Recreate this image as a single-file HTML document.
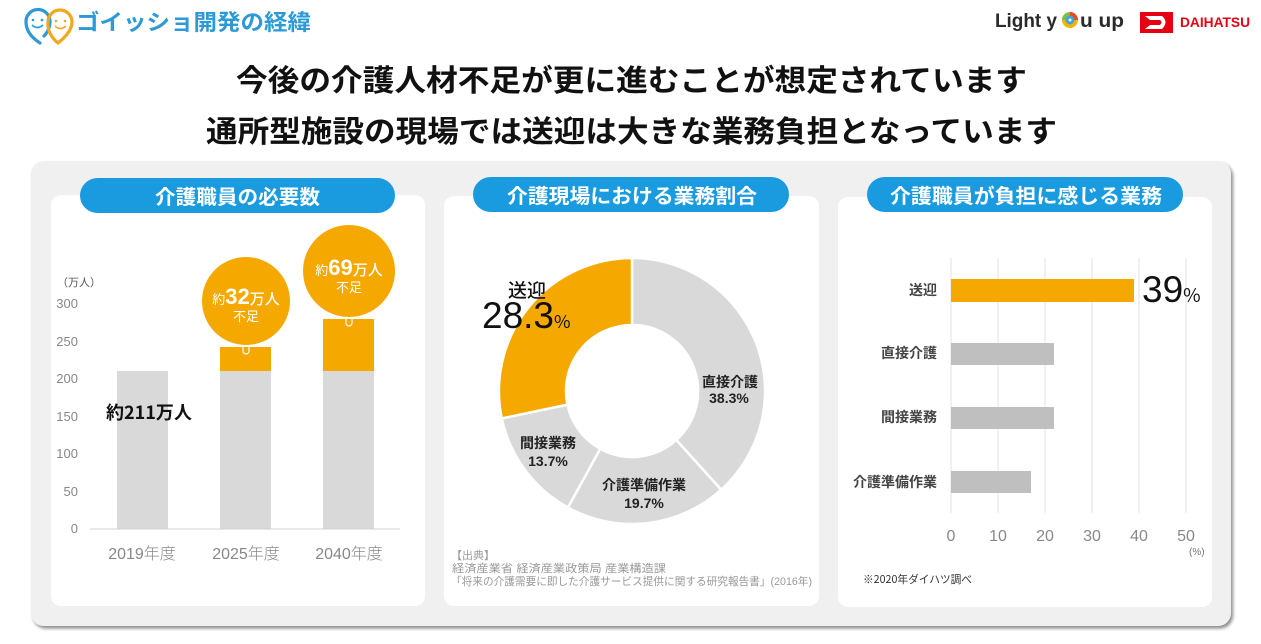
<!DOCTYPE html>
<html><head><meta charset="utf-8">
<style>
html,body{margin:0;padding:0;background:#fff;}
svg{display:block;}
text{font-family:"Liberation Sans","Noto Sans CJK JP",sans-serif;}
.jp{font-family:"Noto Sans CJK JP","Liberation Sans",sans-serif;}
</style></head>
<body>
<svg width="1261" height="644" viewBox="0 0 1261 644" xmlns="http://www.w3.org/2000/svg">
<defs>
<filter id="sh" x="-5%" y="-5%" width="110%" height="115%">
<feDropShadow dx="2" dy="2.5" stdDeviation="1.5" flood-color="#6e6e6e" flood-opacity="0.8"/>
</filter>
</defs>

<!-- Header logo -->
<g fill="none" stroke-width="3.2" stroke-linecap="round">
<path d="M40 43 Q26 34 26 22 A12 12 0 0 1 50 21 Q50 30 44 36" stroke="#2b9ad6"/>
<path d="M58 43 Q47 34 48 22 A12 12 0 0 1 72 22 Q72 32 58 43" stroke="#f2a81d"/>
</g>
<circle cx="33" cy="20" r="1.3" fill="#2b9ad6"/><circle cx="42" cy="20" r="1.3" fill="#2b9ad6"/>
<path d="M32 25 Q37.5 30 43 25" stroke="#2b9ad6" stroke-width="1.6" fill="none"/>
<circle cx="56" cy="21" r="1.3" fill="#f2a81d"/><circle cx="65" cy="21" r="1.3" fill="#f2a81d"/>
<path d="M55 26 Q60.5 31 66 26" stroke="#f2a81d" stroke-width="1.6" fill="none"/>
<text x="76" y="30" class="jp" font-size="22" font-weight="700" fill="#2b9ad6" textLength="235" lengthAdjust="spacingAndGlyphs">ゴイッショ開発の経緯</text>

<!-- Light you up -->
<text x="995" y="27" font-size="19" font-weight="700" fill="#2a2a2a" textLength="62" lengthAdjust="spacingAndGlyphs">Light y</text>
<circle cx="1070" cy="20" r="8" fill="#f4b400"/>
<path d="M1070 12 A8 8 0 0 1 1078 20 L1074 20 A4 4 0 0 0 1070 16 Z" fill="#e8452c"/>
<path d="M1062 20 A8 8 0 0 1 1070 12 L1070 16 A4 4 0 0 0 1066 20 Z" fill="#7cc242"/>
<circle cx="1070" cy="20" r="4.5" fill="#3aa6dd"/>
<circle cx="1070" cy="20" r="1.5" fill="#fff"/>
<text x="1080" y="27" font-size="19" font-weight="700" fill="#2a2a2a" textLength="44" lengthAdjust="spacingAndGlyphs">u up</text>

<!-- DAIHATSU -->
<rect x="1140" y="12" width="33" height="21" fill="#e60012"/>
<path d="M1145 16 L1162 16 Q1169 22 1162 29 L1145 29 L1150 25 L1160 25 Q1163 22 1160 20 L1150 20 Z" fill="#fff"/>
<text x="1180" y="27" font-size="14" font-weight="700" fill="#e60012" textLength="70" lengthAdjust="spacingAndGlyphs">DAIHATSU</text>

<!-- Titles -->
<text x="236" y="91" class="jp" font-size="30" font-weight="700" fill="#111" textLength="791" lengthAdjust="spacingAndGlyphs">今後の介護人材不足が更に進むことが想定されています</text>
<text x="206" y="142" class="jp" font-size="30" font-weight="700" fill="#111" textLength="851" lengthAdjust="spacingAndGlyphs">通所型施設の現場では送迎は大きな業務負担となっています</text>

<!-- Outer container -->
<rect x="31" y="161" width="1200" height="465" rx="13" fill="#f0f0f0" filter="url(#sh)"/>

<!-- Panels -->
<rect x="51" y="195" width="374" height="411" rx="10" fill="#fff"/>
<rect x="444" y="196" width="375" height="410" rx="10" fill="#fff"/>
<rect x="838" y="197" width="374" height="410" rx="10" fill="#fff"/>

<!-- Pills -->
<rect x="80" y="178" width="315" height="35" rx="17.5" fill="#1a9be0"/>
<text x="155" y="204" class="jp" font-size="20" font-weight="700" fill="#fff" textLength="165" lengthAdjust="spacingAndGlyphs">介護職員の必要数</text>
<rect x="473" y="177" width="316" height="35" rx="17.5" fill="#1a9be0"/>
<text x="507" y="203" class="jp" font-size="20" font-weight="700" fill="#fff" textLength="250" lengthAdjust="spacingAndGlyphs">介護現場における業務割合</text>
<rect x="867" y="177" width="316" height="35" rx="17.5" fill="#1a9be0"/>
<text x="890" y="203" class="jp" font-size="20" font-weight="700" fill="#fff" textLength="272" lengthAdjust="spacingAndGlyphs">介護職員が負担に感じる業務</text>

<!-- Panel 1: bar chart -->
<g font-size="13" fill="#888" text-anchor="end">
<text x="78" y="308">300</text>
<text x="78" y="346">250</text>
<text x="78" y="383">200</text>
<text x="78" y="421">150</text>
<text x="78" y="458">100</text>
<text x="78" y="496">50</text>
<text x="78" y="533">0</text>
</g>
<text x="57" y="286" class="jp" font-size="11" fill="#555">（万人）</text>

<rect x="117" y="371" width="51" height="158" fill="#d9d9d9"/>
<rect x="220" y="371" width="51" height="158" fill="#d9d9d9"/>
<rect x="220" y="347" width="51" height="24" fill="#f5a800"/>
<rect x="323" y="371" width="51" height="158" fill="#d9d9d9"/>
<rect x="323" y="319" width="51" height="52" fill="#f5a800"/>
<line x1="90" y1="529" x2="400" y2="529" stroke="#d0d0d0" stroke-width="1"/>

<g class="jp" font-size="16" fill="#888" text-anchor="middle" font-weight="300">
<text x="142" y="559">2019年度</text>
<text x="246" y="559">2025年度</text>
<text x="349" y="559">2040年度</text>
</g>
<text x="106" y="419" class="jp" font-size="18" font-weight="700" fill="#111" textLength="86" lengthAdjust="spacingAndGlyphs">約211万人</text>

<!-- bubbles -->
<circle cx="246" cy="301" r="44" fill="#f5a800"/>
<path d="M243 347 L243 351 A3 3 0 0 0 249 351 L249 347" fill="none" stroke="#fff" stroke-width="1.2"/>
<text x="246" y="304" class="jp" fill="#fff" text-anchor="middle"><tspan font-size="13">約</tspan><tspan font-size="22" font-family="Liberation Sans" font-weight="700">32</tspan><tspan font-size="15" font-weight="500">万人</tspan></text>
<text x="246" y="321" class="jp" font-size="13" fill="#fff" text-anchor="middle">不足</text>

<circle cx="349" cy="271" r="46" fill="#f5a800"/>
<path d="M346 319 L346 323 A3 3 0 0 0 352 323 L352 319" fill="none" stroke="#fff" stroke-width="1.2"/>
<text x="349" y="275" class="jp" fill="#fff" text-anchor="middle"><tspan font-size="13">約</tspan><tspan font-size="22" font-family="Liberation Sans" font-weight="700">69</tspan><tspan font-size="15" font-weight="500">万人</tspan></text>
<text x="349" y="292" class="jp" font-size="13" fill="#fff" text-anchor="middle">不足</text>

<!-- Panel 2: donut -->
<g stroke="#fff" stroke-width="2.5" stroke-linejoin="round">
<path d="M632,258 A133,133 0 0 1 721.2,489.7 L676.3,440.0 A66,66 0 0 0 632,325 Z" fill="#d9d9d9"/>
<path d="M721.2,489.7 A133,133 0 0 1 567.9,507.5 L600.2,448.8 A66,66 0 0 0 676.3,440.0 Z" fill="#d9d9d9"/>
<path d="M567.9,507.5 A133,133 0 0 1 501.8,418.4 L567.4,404.6 A66,66 0 0 0 600.2,448.8 Z" fill="#d9d9d9"/>
<path d="M501.8,418.4 A133,133 0 0 1 632,258 L632,325 A66,66 0 0 0 567.4,404.6 Z" fill="#f5a800"/>
</g>
<text x="508" y="297" class="jp" font-size="19" font-weight="500" fill="#111">送迎</text>
<text x="482" y="328" fill="#111"><tspan font-size="37" font-family="Liberation Sans">28.3</tspan><tspan font-size="18" class="jp">%</tspan></text>

<g class="jp" font-size="14" font-weight="700" fill="#222" text-anchor="middle">
<text x="730" y="387">直接介護</text>
<text x="729" y="403">38.3%</text>
<text x="548" y="448">間接業務</text>
<text x="548" y="466">13.7%</text>
<text x="644" y="490">介護準備作業</text>
<text x="644" y="508">19.7%</text>
</g>

<g class="jp" font-size="11" fill="#999">
<text x="451" y="559">【出典】</text>
<text x="452" y="572" textLength="214" lengthAdjust="spacingAndGlyphs">経済産業省 経済産業政策局 産業構造課</text>
<text x="451" y="585" textLength="361" lengthAdjust="spacingAndGlyphs">「将来の介護需要に即した介護サービス提供に関する研究報告書」(2016年)</text>
</g>

<!-- Panel 3: horizontal bars -->
<g stroke="#e2e2e2" stroke-width="1">
<line x1="951" y1="258" x2="951" y2="513"/>
<line x1="998" y1="258" x2="998" y2="513"/>
<line x1="1045" y1="258" x2="1045" y2="513"/>
<line x1="1092" y1="258" x2="1092" y2="513"/>
<line x1="1139" y1="258" x2="1139" y2="513"/>
<line x1="1186" y1="258" x2="1186" y2="513"/>
</g>
<rect x="951" y="279" width="183" height="23" fill="#f5a800"/>
<rect x="951" y="343" width="103" height="22" fill="#bfbfbf"/>
<rect x="951" y="407" width="103" height="22" fill="#bfbfbf"/>
<rect x="951" y="471" width="80" height="22" fill="#bfbfbf"/>

<g class="jp" font-size="14" font-weight="700" fill="#444" text-anchor="end">
<text x="937" y="295">送迎</text>
<text x="937" y="358">直接介護</text>
<text x="937" y="422">間接業務</text>
<text x="937" y="487">介護準備作業</text>
</g>
<text x="1142" y="302" fill="#111"><tspan font-size="37" font-family="Liberation Sans">39</tspan><tspan font-size="19" class="jp">%</tspan></text>

<g font-size="16" fill="#888" text-anchor="middle">
<text x="951" y="541">0</text>
<text x="998" y="541">10</text>
<text x="1045" y="541">20</text>
<text x="1092" y="541">30</text>
<text x="1139" y="541">40</text>
<text x="1186" y="541">50</text>
</g>
<text x="1189" y="555" font-size="10" fill="#777">(%)</text>
<text x="863" y="583" class="jp" font-size="11" fill="#333" textLength="109" lengthAdjust="spacingAndGlyphs">※2020年ダイハツ調べ</text>
</svg>
</body></html>
